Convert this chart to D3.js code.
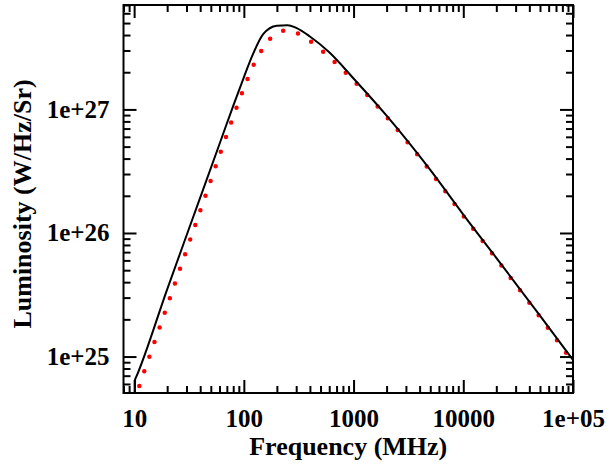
<!DOCTYPE html>
<html>
<head>
<meta charset="utf-8">
<script src="https://cdn.jsdelivr.net/npm/d3@7"></script>
<style>
  body { margin: 0; background: #fff; }
  svg text { font-family: "Liberation Serif", "Times New Roman", serif; font-weight: bold; fill: #000; }
</style>
</head>
<body>
<svg width="607" height="466"></svg>
<script>
let svg = d3.select("svg");

// frequency samples (MHz) and the two spectra
let freq_mhz = [10, 10.2, 10.5, 20, 40, 60, 80, 100, 120, 150, 200, 250, 300, 400, 600,
  1000, 2000, 5000, 10000, 20000, 50000, 100000];
let lum_model = [1e24, 6.5e24, 6.9e24, 3.5e25, 1.93e26, 5.25e26, 1.07e27, 1.82e27, 2.75e27, 4.07e27,
  4.76e27, 4.81e27, 4.57e27, 3.89e27, 2.9e27, 1.78e27, 8.9e26, 3.24e26, 1.41e26, 6.3e25,
  2.14e25, 9.4e24];
let lum_fit = [4.4e24, 4.57e24, 4.94e24, 2.57e25, 1.51e26, 4.25e26, 8.73e26, 1.48e27, 2.2e27, 3.14e27,
  4.16e27, 4.37e27, 4.17e27, 3.58e27, 2.65e27, 1.71e27, 8.7e26, 3.16e26, 1.38e26, 6.17e25,
  2.09e25, 9.0e24];

let x_ticks = [10, 100, 1000, 10000, 100000];
let x_tick_labels = ["10", "100", "1000", "10000", "1e+05"];
let y_ticks = [1e25, 1e26, 1e27];
let y_tick_labels = ["1e+25", "1e+26", "1e+27"];

let plot_left = 123.5, plot_right = 573, plot_top = 5, plot_bottom = 393;
let major_len = 13, minor_len = 7;

let x_scale = d3.scaleLog()
  .domain([8, 1e5])
  .range([plot_left, plot_right]);
let y_scale = d3.scaleLog()
  .domain([5.07e24, 7.0e27])
  .range([plot_bottom, plot_top]);

let is_major = (v) => Math.abs(v / Math.pow(10, Math.floor(Math.log10(v) + 1e-9)) - 1) < 1e-6;
let x_minor = x_scale.ticks().filter((v) => !is_major(v));
let y_minor = y_scale.ticks().filter((v) => !is_major(v));

svg.append("defs").append("clipPath")
    .attr("id", "plot-clip")
  .append("rect")
    .attr("x", plot_left)
    .attr("y", plot_top)
    .attr("width", plot_right - plot_left)
    .attr("height", plot_bottom - plot_top);

// ticks point inwards on all four sides
const drawAxis = function(axis, transform, values, size, labels, padding) {
  let g = svg.append("g")
    .attr("transform", transform)
    .call(axis.tickValues(values)
      .tickSizeInner(-size)
      .tickSizeOuter(0)
      .tickPadding(padding || 0)
      .tickFormat(labels ? (d, i) => labels[i] : ""));
  g.select(".domain").remove();
  g.selectAll("line").attr("stroke", "#000").attr("stroke-width", 2);
  g.selectAll("text").style("font-size", "25px").attr("fill", "#000");
  return g;
}

drawAxis(d3.axisBottom(x_scale), "translate(0," + plot_bottom + ")", x_ticks, major_len, x_tick_labels, 16);
drawAxis(d3.axisBottom(x_scale), "translate(0," + plot_bottom + ")", x_minor, minor_len);
drawAxis(d3.axisTop(x_scale), "translate(0," + plot_top + ")", x_ticks, major_len);
drawAxis(d3.axisTop(x_scale), "translate(0," + plot_top + ")", x_minor, minor_len);
drawAxis(d3.axisLeft(y_scale), "translate(" + plot_left + ",0)", y_ticks, major_len, y_tick_labels, 14);
drawAxis(d3.axisLeft(y_scale), "translate(" + plot_left + ",0)", y_minor, minor_len);
drawAxis(d3.axisRight(y_scale), "translate(" + plot_right + ",0)", y_ticks, major_len);
drawAxis(d3.axisRight(y_scale), "translate(" + plot_right + ",0)", y_minor, minor_len);

let line_for = (values) => d3.line()
  .x((d, i) => x_scale(freq_mhz[i]))
  .y((d) => y_scale(d))
  .curve(d3.curveMonotoneX)(values);

let curves = svg.append("g").attr("clip-path", "url(#plot-clip)");

curves.append("path")
  .attr("d", line_for(lum_fit))
  .attr("fill", "none")
  .attr("stroke", "#ff0000")
  .attr("stroke-width", 4.5)
  .attr("stroke-linecap", "round")
  .attr("stroke-dasharray", "0 15.5");

curves.append("path")
  .attr("d", line_for(lum_model))
  .attr("fill", "none")
  .attr("stroke", "#000")
  .attr("stroke-width", 2);

// frame
svg.append("rect")
  .attr("x", plot_left)
  .attr("y", plot_top)
  .attr("width", plot_right - plot_left)
  .attr("height", plot_bottom - plot_top)
  .attr("fill", "none")
  .attr("stroke", "#000")
  .attr("stroke-width", 2);

svg.append("text")
  .attr("x", (plot_left + plot_right) / 2)
  .attr("y", 455)
  .attr("text-anchor", "middle")
  .style("font-size", "26px")
  .text("Frequency (MHz)");

svg.append("text")
  .attr("transform", "translate(31," + 204 + ") rotate(-90)")
  .attr("text-anchor", "middle")
  .style("font-size", "26px")
  .text("Luminosity (W/Hz/Sr)");
</script>
</body>
</html>
